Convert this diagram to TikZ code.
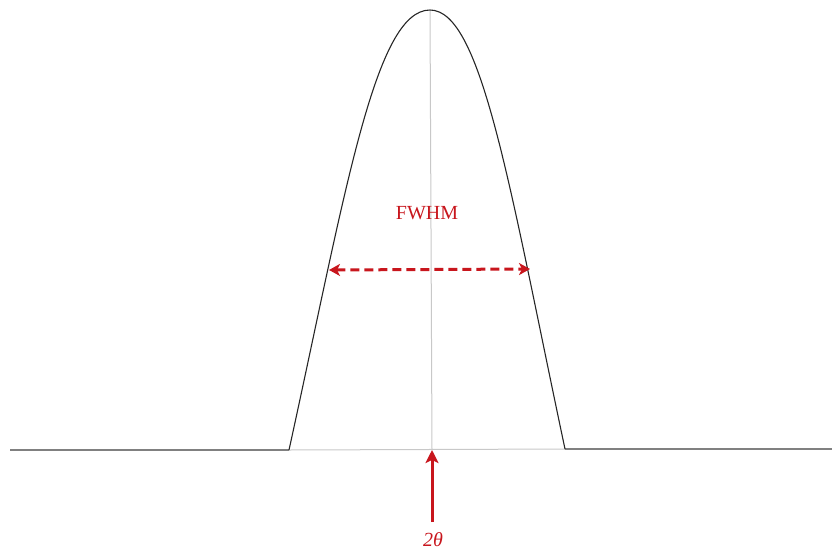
\documentclass[tikz,border=0pt]{standalone}
\usepackage{fontspec}
\setmainfont{Liberation Serif}
\usetikzlibrary{arrows.meta}
\definecolor{myred}{HTML}{C8161D}
\definecolor{basegray}{HTML}{808080}
\definecolor{lightgray}{HTML}{C8C8C8}
\tikzset{
  curveline/.style={draw=black!85, line width=1.1pt},
  baseline/.style={draw=basegray, line width=1.5pt},
  guide/.style={draw=lightgray, line width=1pt},
  redarrow/.style={draw=myred, line width=3pt, -{Stealth[length=13pt,width=13pt,inset=3pt]}},
  fwhmarrow/.style={draw=myred, line width=3pt, dash pattern=on 9pt off 5pt, {Stealth[length=11pt,width=12pt,inset=3pt]}-{Stealth[length=11pt,width=12pt,inset=3pt]}},
  redlabel/.style={text=myred, font=\fontsize{20}{22}\selectfont, inner sep=0pt},
}
\begin{document}
\begin{tikzpicture}[x=1pt,y=-1pt]
\useasboundingbox (0,0) rectangle (832,549);
\coordinate (lend) at (10,450);
\coordinate (lfoot) at (289,450);
\coordinate (peak) at (430,10);
\coordinate (rfoot) at (565,449);
\coordinate (rend) at (832,449);
\coordinate (center) at (432,450);
\coordinate (fl) at (329,270);
\coordinate (fr) at (530,269);
\coordinate (arrowtail) at (432,522);
% light inner base and centre guide
\draw[guide] (lfoot) -- (rfoot);
\draw[guide] (peak) -- (center);
% outer baselines
\draw[baseline] (lend) -- (lfoot);
\draw[baseline] (rfoot) -- (rend);
% peak curve
\draw[curveline] (lfoot) .. controls (346,190) and (375,10) .. (peak)
                         .. controls (482,10) and (510,190) .. (rfoot);
% FWHM
\draw[fwhmarrow] (fl) -- (fr);
\node[redlabel] (fwhm) at (427,213) {FWHM};
% 2theta marker
\draw[redarrow] (arrowtail) -- (center);
\node[redlabel, anchor=base] (theta) at (433,546) {\itshape 2θ};
\end{tikzpicture}
\end{document}
